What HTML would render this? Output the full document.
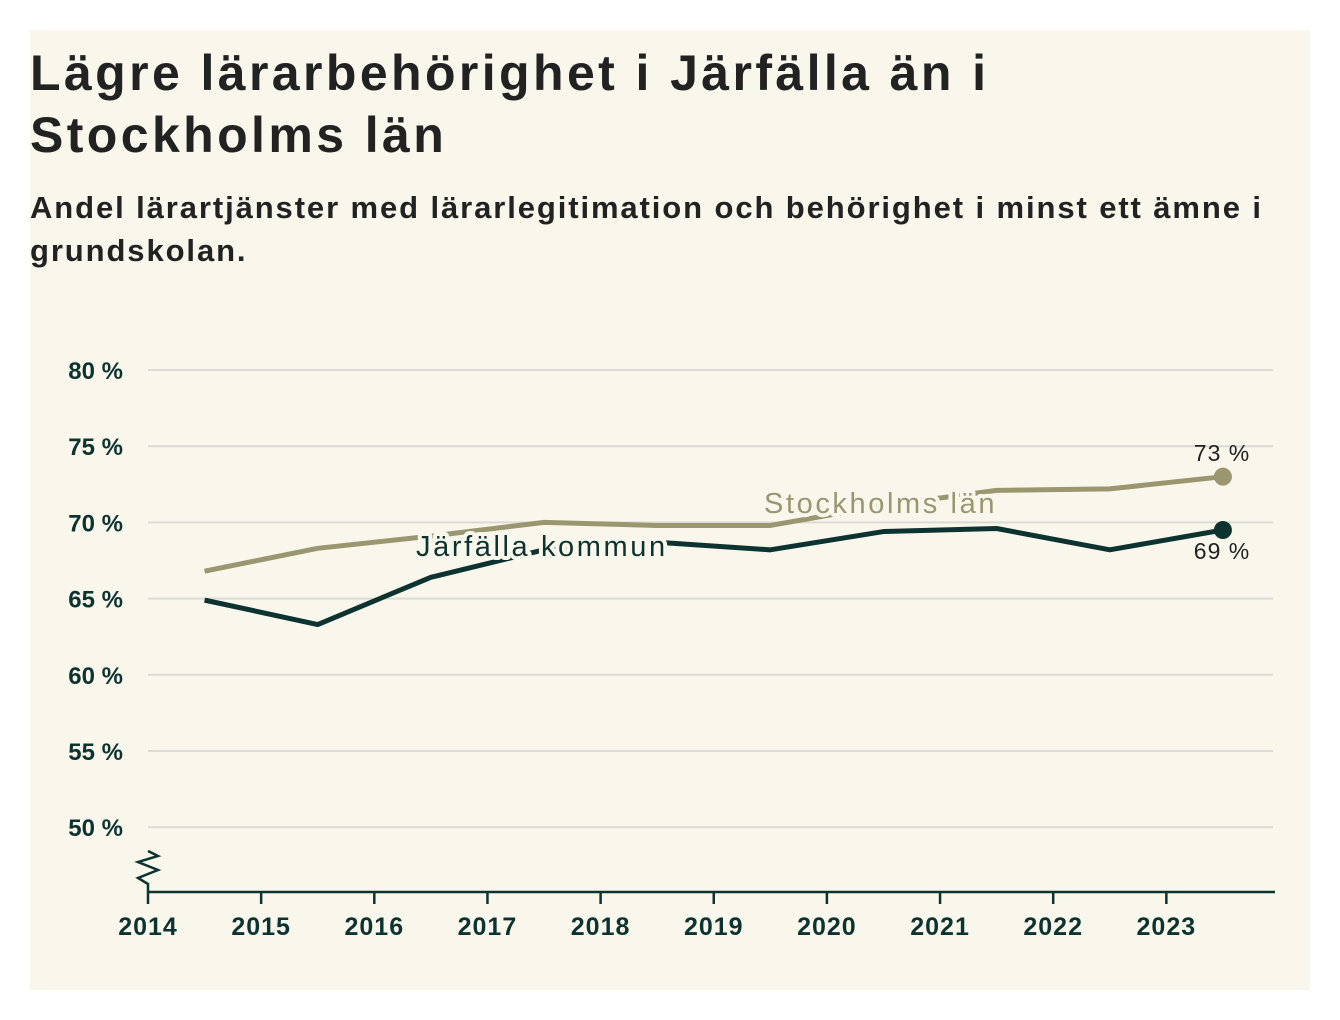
<!DOCTYPE html>
<html><head><meta charset="utf-8"><style>
body{margin:0;background:#fff;width:1340px;height:1020px;overflow:hidden;font-family:"Liberation Sans","DejaVu Sans",sans-serif}
#card{position:absolute;left:30px;top:30px;width:1280px;height:960px;background:#f9f7eb}
h1{position:absolute;left:0;top:12px;margin:0;font-size:50px;line-height:62px;font-weight:bold;color:#222;width:1100px;letter-spacing:3.4px}
h2{position:absolute;left:0;top:156px;margin:0;font-size:31px;line-height:43px;font-weight:bold;color:#222;width:1260px;letter-spacing:1.9px}
svg{position:absolute;left:0;top:0}
</style></head><body>
<div id="card">
<h1>Lägre lärarbehörighet i Järfälla än i Stockholms län</h1>
<h2>Andel lärartjänster med lärarlegitimation och behörighet i minst ett ämne i grundskolan.</h2>
</div>
<svg id="chart" width="1340" height="1020"></svg>
<script>
const years=[2014.5,2015.5,2016.5,2017.5,2018.5,2019.5,2020.5,2021.5,2022.5,2023.5];
const stockholm=[66.8,68.3,69.1,70.0,69.8,69.8,71.1,72.1,72.2,73.0];
const jarfalla=[64.9,63.3,66.4,68.2,68.7,68.2,69.4,69.6,68.2,69.5];
const yTicks=[50,55,60,65,70,75,80];
const xTicks=[2014,2015,2016,2017,2018,2019,2020,2021,2022,2023];
const ns="http://www.w3.org/2000/svg",svg=document.getElementById('chart');
const X=v=>148+(v-2014)*113.15, Y=v=>370+(80-v)*15.24;
function mk(t,a,txt){const e=document.createElementNS(ns,t);for(const k in a)e.setAttribute(k,a[k]);if(txt!=null)e.textContent=txt;svg.appendChild(e);return e;}
const F='"Liberation Sans","DejaVu Sans",sans-serif';
yTicks.forEach(v=>{
 let g=mk('line',{x1:148,x2:1273,y1:Y(v),y2:Y(v),stroke:'#dcdad5','stroke-width':2});
 
 let t=mk('text',{x:123,y:Y(v)+9,'text-anchor':'end','font-size':24,'font-family':F,fill:'#0d3330','font-weight':'bold'},v+' %');
 
});
let ax=mk('line',{x1:148,x2:1275,y1:892,y2:892,stroke:'#0d3330','stroke-width':2.5});

let zz=mk('path',{d:'M148 892 L148 884 L138 878 L158 870 L138 862 L158 856 L148 851',fill:'none',stroke:'#0d3330','stroke-width':2.5});

xTicks.forEach(v=>{
 let l=mk('line',{x1:X(v),x2:X(v),y1:892,y2:904,stroke:'#0d3330','stroke-width':2.5});
 
 let t=mk('text',{x:X(v),y:935,'text-anchor':'middle','font-size':25,'font-weight':'bold','font-family':F,fill:'#0d3330','letter-spacing':1},v);
 
});
function series(vals,col,name){
 let p=mk('polyline',{points:years.map((y,i)=>X(y)+','+Y(vals[i])).join(' '),fill:'none',stroke:col,'stroke-width':5,'stroke-linejoin':'round'});
 
 const n=vals.length-1;
 let c=mk('circle',{cx:X(years[n]),cy:Y(vals[n]),r:9,fill:col});
 
}
series(stockholm,'#9a9670','stockholm');
function label(x,y,txt,col,name){
 let t=mk('text',{x:x,y:y,'font-size':29,'font-family':F,fill:col,stroke:'#f9f7eb','stroke-width':8,'paint-order':'stroke','stroke-linejoin':'round','letter-spacing':2.6},txt);
 
}
label(764,513,'Stockholms län','#9a9670','stockholm-label');
series(jarfalla,'#0d3330','jarfalla');
label(416,556,'Järfälla kommun','#0d3330','jarfalla-label');
let v1=mk('text',{x:1222,y:461,'text-anchor':'middle','font-size':23,'font-family':F,fill:'#222','letter-spacing':1},Math.round(stockholm[stockholm.length-1])+' %');

let v2=mk('text',{x:1222,y:559,'text-anchor':'middle','font-size':23,'font-family':F,fill:'#222','letter-spacing':1},Math.floor(jarfalla[jarfalla.length-1])+' %');

</script>
</body></html>
